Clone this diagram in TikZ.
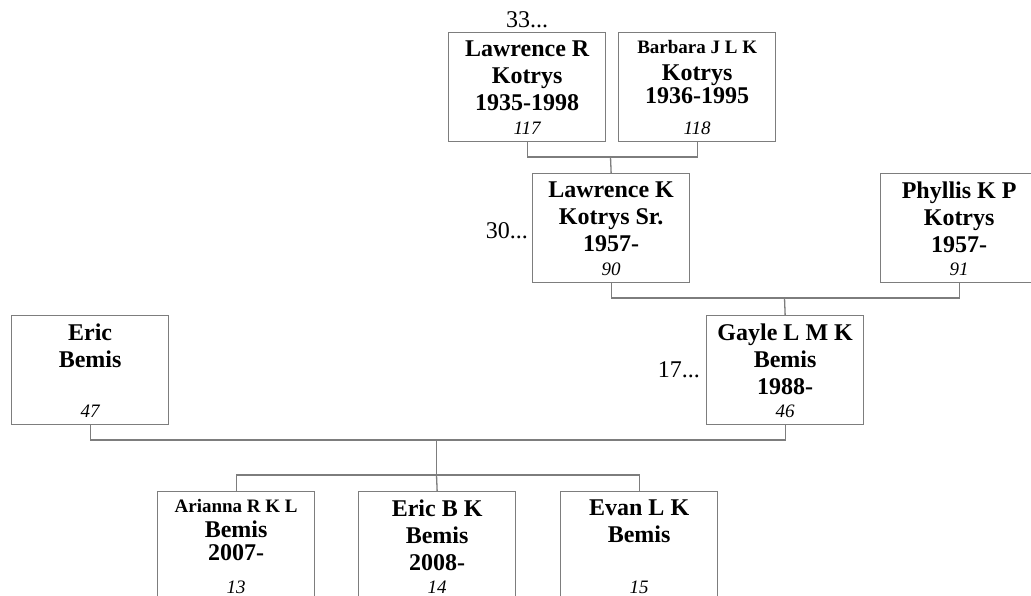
\documentclass[tikz,border=0pt]{standalone}
\usepackage{fontspec}
\setmainfont{Liberation Serif}
\usetikzlibrary{positioning}
\definecolor{linegray}{RGB}{125,125,125}
\newcommand{\namefont}{\fontsize{24}{27}\selectfont\bfseries}
\newcommand{\smallname}{\fontsize{19}{21}\selectfont}
\newcommand{\numfont}{\fontsize{19}{22}\selectfont\itshape}
\newcommand{\morefont}{\fontsize{24}{27}\selectfont}

\begin{document}
\begin{tikzpicture}[x=1pt,y=-1pt,
    person/.style={draw=linegray, line width=1.3pt, minimum width=157pt, minimum height=109pt, inner sep=0pt, anchor=north west},
    who/.style={font=\namefont, align=center, inner sep=0pt, anchor=north},
    num/.style={font=\numfont, inner sep=0pt, anchor=base},
    more/.style={font=\morefont, inner sep=0pt},
    link/.style={draw=linegray, line width=1.3pt}]
    \useasboundingbox (0,0) rectangle (1031,596);
    % the boxes
    \foreach \id/\x/\y/\who/\n in {
        lr/448/32/{Lawrence R\\Kotrys\\1935-1998}/117,
        bk/618/32/{{\smallname Barbara J L K}\\Kotrys\\[-4pt]1936-1995}/118,
        lk/532/173/{Lawrence K\\Kotrys Sr.\\1957-}/90,
        pk/880/173/{Phyllis K P\\Kotrys\\1957-}/91,
        eb/11/315/{Eric\\Bemis}/47,
        gk/706/315/{Gayle L M K\\Bemis\\1988-}/46,
        ar/157/491/{{\smallname Arianna R K L}\\[-2pt]Bemis\\[-4pt]2007-}/13,
        ebk/358/491/{Eric B K\\Bemis\\2008-}/14,
        el/560/491/{Evan L K\\Bemis}/15}
    {
    \node[person] (\id) at (\x,\y) {};
    \node[who] (\id-who) at ([yshift=-8.5pt]\id.north) {\who};
    \node[num] (\id-num) at ([yshift=8pt]\id.south) {\n};
    }
    \node[more, anchor=base] (lr-more) at ([yshift=4pt]lr.north) {33...};
    \node[more, anchor=east] (lk-more) at ([xshift=-4pt,yshift=-3pt]lk.west) {30...};
    \node[more, anchor=east] (gk-more) at ([xshift=-6pt]gk.west) {17...};
    % the lines
    \coordinate (lrbk) at (610.5,157);
    \draw[link] (lr.south) |- (lrbk) -| (bk.south);
    \draw[link] (lrbk) -- (lk.north);
    \coordinate (lkpk) at (784.5,298);
    \draw[link] (lk.south) |- (lkpk) -| (pk.south);
    \draw[link] (lkpk) -- (gk.north);
    \coordinate (ebgk) at (436.5,440);
    \draw[link] (eb.south) |- (ebgk) -| (gk.south);
    \coordinate (kids) at (436.5,475);
    \draw[link] (ebgk) -- (kids);
    \draw[link] (ar.north) |- (kids) -| (el.north);
    \draw[link] (kids) -- (ebk.north);
\end{tikzpicture}
\end{document}
